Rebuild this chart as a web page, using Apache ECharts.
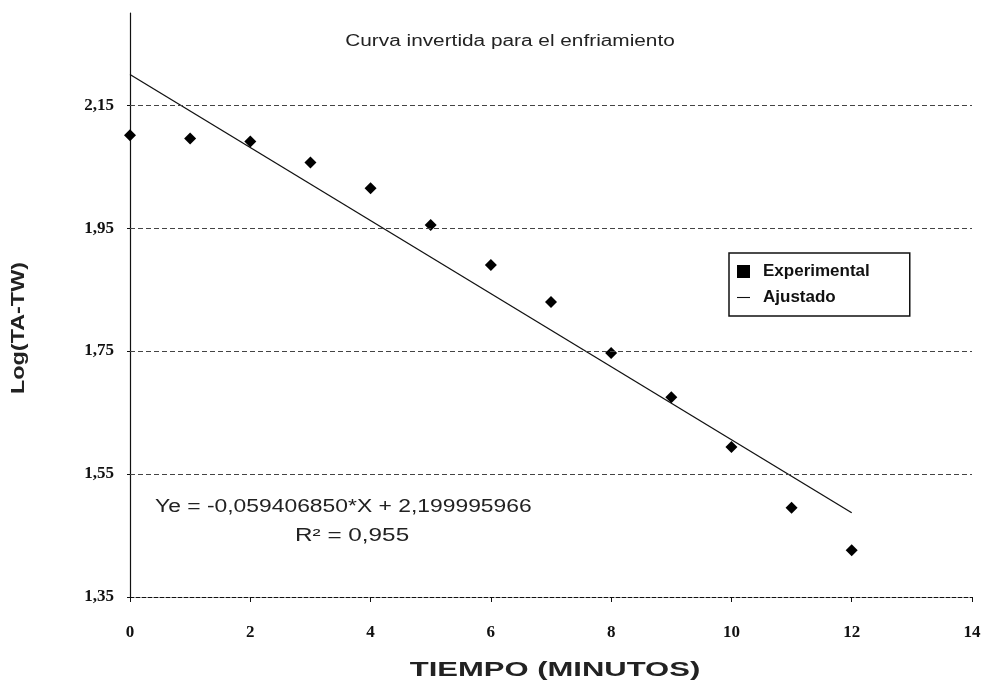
<!DOCTYPE html>
<html lang="es">
<head>
<meta charset="UTF-8">
<title>Curva invertida para el enfriamiento</title>
<script src="https://cdn.jsdelivr.net/npm/echarts@6.0.0/dist/echarts.min.js"></script>
<style>
  html, body { margin: 0; padding: 0; background: #fff; }
  #chart { width: 989px; height: 686px; }
</style>
</head>
<body>
<div id="chart"></div>
<script>
// minutes and measured log(TA-TW)
const tiempo = [0, 1, 2, 3, 4, 5, 6, 7, 8, 9, 10, 11, 12];
const logExp = [2.101, 2.096, 2.091, 2.057, 2.015, 1.955, 1.890, 1.830, 1.747, 1.675, 1.594, 1.495, 1.426];
// fitted line end points
const ajusteX = [0, 12];
const ajusteY = [2.200, 1.487];
const yTicks = [1.35, 1.55, 1.75, 1.95, 2.15];

const chart = echarts.init(document.getElementById('chart'));
const tickFont = { fontFamily: 'Liberation Serif', fontSize: 17, fontWeight: 'bold', color: '#111' };

const option = {
  animation: false,
  backgroundColor: '#fff',
  legend: {
    orient: 'vertical',
    left: 729, top: 253,
    width: 192,
    padding: [10, 40, 10, 8],
    itemGap: 9,
    borderColor: '#111', borderWidth: 1.5,
    backgroundColor: '#fff',
    textStyle: { fontFamily: 'Liberation Sans', fontSize: 17, fontWeight: 'bold', color: '#111',
      padding: [0, 0, 0, 8] },
    itemWidth: 13, itemHeight: 13,
    data: [
      { name: 'Experimental', icon: 'rect' },
      { name: 'Ajustado', icon: 'path://M0,16L12,16L12,17L0,17Z' }
    ]
  },
  grid: { left: 130, right: 17, top: 13, bottom: 89 },
  xAxis: {
    type: 'value', min: 0, max: 14, interval: 2,
    axisLine: { lineStyle: { color: '#111', width: 1, type: [4, 2] } },
    axisTick: { show: true, length: 5, lineStyle: { color: '#111' } },
    axisLabel: Object.assign({ margin: 27 }, tickFont),
    splitLine: { show: false }
  },
  yAxis: {
    type: 'value', min: 1.35, max: 2.30, interval: 0.2,
    axisLine: { show: true, onZero: false, lineStyle: { color: '#111', width: 1.2 } },
    axisTick: { show: true, length: 3, lineStyle: { color: '#111' } },
    axisLabel: Object.assign({
      margin: 16, showMaxLabel: false,
      formatter: v => v.toFixed(2).replace('.', ',')
    }, tickFont),
    splitLine: { show: false }
  },
  series: [
    {
      name: 'Experimental',
      type: 'scatter',
      symbol: 'diamond',
      symbolSize: 12,
      itemStyle: { color: '#000', opacity: 1 },
      data: tiempo.map((t, i) => [t, logExp[i]]),
      markLine: {
        silent: true, symbol: 'none', label: { show: false },
        lineStyle: { color: '#444', width: 1, type: [5, 3] },
        data: yTicks.slice(1).map(v => ({ yAxis: v }))
      },
      z: 3
    },
    {
      name: 'Ajustado',
      type: 'line',
      showSymbol: false,
      lineStyle: { color: '#111', width: 1.3 },
      itemStyle: { color: '#111' },
      data: ajusteX.map((t, i) => [t, ajusteY[i]])
    }
  ],
  graphic: [
    {
      type: 'text', x: 510, y: 42, scaleX: 1.3,
      style: { text: 'Curva invertida para el enfriamiento', font: '16px "Liberation Sans"', fill: '#222',
        textAlign: 'center', textVerticalAlign: 'middle' }
    },
    {
      type: 'text', x: 555, y: 670, scaleX: 1.55,
      style: { text: 'TIEMPO (MINUTOS)', font: 'bold 20px "Liberation Sans"', fill: '#222',
        textAlign: 'center', textVerticalAlign: 'middle' }
    },
    {
      type: 'text', x: 19, y: 328, rotation: Math.PI / 2, scaleX: 1.3,
      style: { text: 'Log(TA-TW)', font: 'bold 18px "Liberation Sans"', fill: '#222',
        textAlign: 'center', textVerticalAlign: 'middle' }
    },
    {
      type: 'text', x: 155, y: 507, scaleX: 1.27,
      style: { text: 'Ye = -0,059406850*X + 2,199995966', font: '18px "Liberation Sans"', fill: '#222',
        textVerticalAlign: 'middle' }
    },
    {
      type: 'text', x: 295, y: 536, scaleX: 1.35,
      style: { text: 'R² = 0,955', font: '18px "Liberation Sans"', fill: '#222',
        textVerticalAlign: 'middle' }
    }
  ]
};

chart.setOption(option);
window.addEventListener('resize', () => chart.resize());
</script>
</body>
</html>
